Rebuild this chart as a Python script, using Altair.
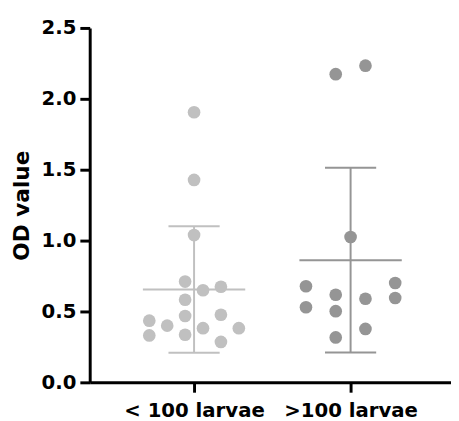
import altair as alt
import pandas as pd

groups = ["< 100 larvae", ">100 larvae"]
colors = ["#c0c0c0", "#959595"]

values_low = [1.905, 1.428, 1.039, 0.711, 0.650, 0.674, 0.583, 0.435,
              0.400, 0.468, 0.477, 0.331, 0.336, 0.382, 0.382, 0.285]
slots_low = [0, 0, 0, -1, 1, 3, -1, -5, -3, -1, 3, -5, -1, 1, 5, 3]

values_high = [2.174, 2.234, 1.025, 0.678, 0.530, 0.618, 0.502, 0.317,
               0.590, 0.377, 0.701, 0.595]
slots_high = [-1, 1, 0, -3, -3, -1, -1, -1, 1, 1, 3, 3]

spread = [0.0572, 0.095]  # horizontal step of the dot spread per group

rows = []
for gi, (vals, slots) in enumerate([(values_low, slots_low), (values_high, slots_high)]):
    for v, s in zip(vals, slots):
        rows.append({"group": groups[gi], "gi": gi + 1, "value": v,
                     "xpos": gi + 1 + s * spread[gi]})
df = pd.DataFrame(rows)

FONT = "DejaVu Sans"

xscale = alt.Scale(domain=[0.3333, 2.6415], nice=False, zero=False)
yscale = alt.Scale(domain=[0, 2.5], nice=False)
cscale = alt.Scale(domain=groups, range=colors)

xaxis = alt.Axis(values=[1, 2],
                 labelExpr="datum.value == 1 ? '< 100 larvae' : '>100 larvae'",
                 title=None, grid=False, domainWidth=3, tickWidth=3, tickSize=10,
                 labelFont=FONT, labelFontWeight="bold", labelFontSize=20,
                 labelColor="black", domainColor="black", tickColor="black",
                 labelPadding=9)
yaxis = alt.Axis(values=[0, 0.5, 1.0, 1.5, 2.0, 2.5], format=".1f",
                 title="OD value", grid=False, domainWidth=3, tickWidth=3,
                 tickSize=10, labelFont=FONT, labelFontWeight="bold",
                 labelFontSize=20, labelColor="black", domainColor="black",
                 tickColor="black", titleFont=FONT, titleFontWeight="bold",
                 titleFontSize=22, titleColor="black", titlePadding=8,
                 labelPadding=4)

stats = alt.Chart(df).transform_aggregate(
    mean="mean(value)", sd="stdev(value)", groupby=["group", "gi"]
).transform_calculate(
    lo="datum.mean - datum.sd", hi="datum.mean + datum.sd",
    ml="datum.gi - 0.327", mr="datum.gi + 0.327",
    cl="datum.gi - 0.1635", cr="datum.gi + 0.1635",
)

color = alt.Color("group:N", scale=cscale, legend=None)

vert = stats.mark_rule(strokeWidth=2).encode(
    x=alt.X("gi:Q", scale=xscale, axis=xaxis),
    y=alt.Y("lo:Q", scale=yscale, axis=yaxis), y2="hi:Q", color=color)
mean_line = stats.mark_rule(strokeWidth=2).encode(
    x="ml:Q", x2="mr:Q", y="mean:Q", color=color)
cap_lo = stats.mark_rule(strokeWidth=2).encode(
    x="cl:Q", x2="cr:Q", y="lo:Q", color=color)
cap_hi = stats.mark_rule(strokeWidth=2).encode(
    x="cl:Q", x2="cr:Q", y="hi:Q", color=color)

points = alt.Chart(df).mark_circle(size=165, opacity=1).encode(
    x=alt.X("xpos:Q", scale=xscale, axis=xaxis),
    y=alt.Y("value:Q", scale=yscale, axis=yaxis),
    color=color)

chart = alt.layer(vert, mean_line, cap_lo, cap_hi, points).properties(
    width=367, height=360,
    background="white",
    autosize=alt.AutoSizeParams(type="none"),
    padding={"left": 83, "top": 17, "right": 0, "bottom": 36},
).configure_view(stroke="transparent", strokeWidth=0)

chart.save("out.html", embed_options={"renderer": "svg", "actions": False})
